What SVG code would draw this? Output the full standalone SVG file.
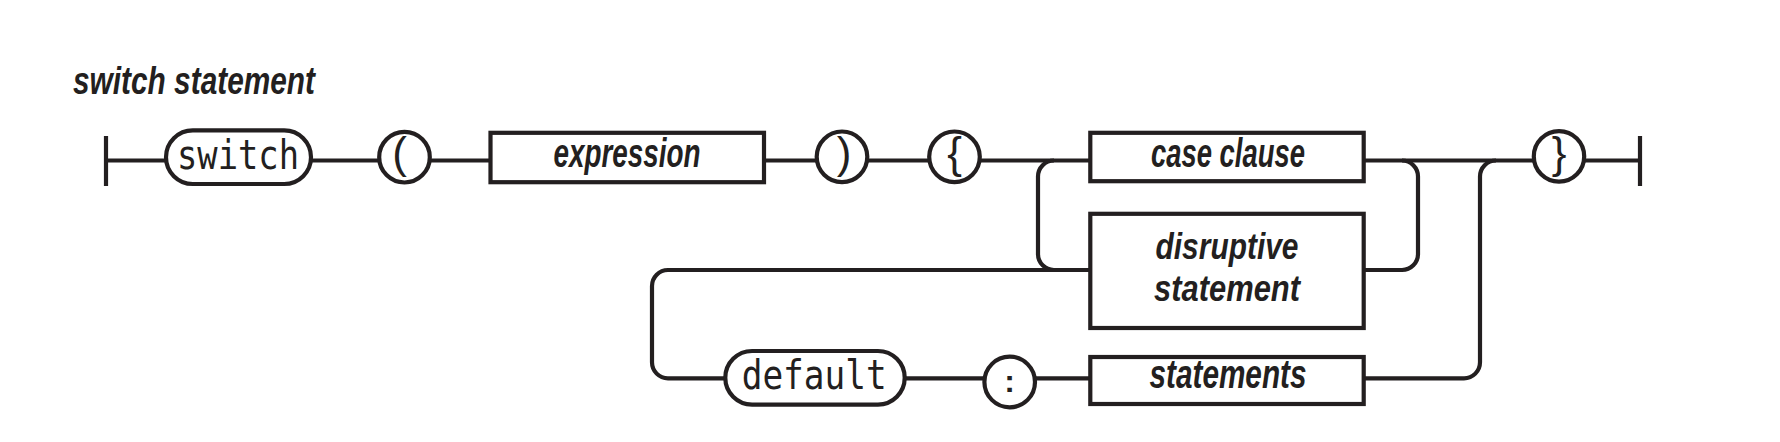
<svg xmlns="http://www.w3.org/2000/svg" width="1780" height="442" viewBox="0 0 1780 442">
<style>
  .ln { fill: none; stroke: #231f20; stroke-width: 4.2; }
  .box { fill: #ffffff; stroke: #231f20; stroke-width: 4.2; }
  .lbl { font-family: "Liberation Sans", Arial, sans-serif; font-weight: bold; font-style: italic; font-size: 41px; fill: #231f20; text-anchor: middle; }
  .lbl2 { font-size: 37px; }
  .mono { font-family: "DejaVu Sans Mono", "Liberation Mono", monospace; font-size: 40px; fill: #231f20; text-anchor: middle; }
  .pun { font-family: "Liberation Sans", Arial, sans-serif; font-size: 44px; fill: #231f20; text-anchor: middle; }
  .title { font-family: "Liberation Sans", Arial, sans-serif; font-weight: bold; font-style: italic; font-size: 39px; fill: #231f20; }
</style>
<rect x="0" y="0" width="1780" height="442" fill="#ffffff"/>
<text class="title" x="73" y="94" textLength="242" lengthAdjust="spacingAndGlyphs">switch statement</text>

<g id="connectors">
  <path class="ln" d="M106,160.5 H166"/>
  <path class="ln" d="M311,160.5 H380"/>
  <path class="ln" d="M429,160.5 H490.5"/>
  <path class="ln" d="M764,160.5 H817"/>
  <path class="ln" d="M867,160.5 H929"/>
  <path class="ln" d="M980,160.5 H1090.3"/>
  <path class="ln" d="M1363.7,160.5 H1534"/>
  <path class="ln" d="M1584,160.5 H1640"/>
  <path class="ln" d="M1054,160.5 A16,16 0 0 0 1038,176.5 V254 A16,16 0 0 0 1054,270"/>
  <path class="ln" d="M1090.3,270 H668 A16,16 0 0 0 652,286 V362.3 A16,16 0 0 0 668,378.3 H725.3"/>
  <path class="ln" d="M1363.7,270 H1402 A16,16 0 0 0 1418,254 V176.5 A16,16 0 0 0 1402,160.5"/>
  <path class="ln" d="M1363.7,378.3 H1464 A16,16 0 0 0 1480,362.3 V176.5 A16,16 0 0 1 1496,160.5"/>
  <path class="ln" d="M904.7,378.3 H985"/>
  <path class="ln" d="M1035,378.3 H1090.3"/>
</g>

<g id="start">
  <line class="ln" x1="106" y1="136" x2="106" y2="186"/>
</g>
<g id="switch">
  <rect class="box" x="166" y="130.4" width="145" height="53.6" rx="26.8"/>
  <text class="mono" x="238" y="169" textLength="122" lengthAdjust="spacingAndGlyphs">switch</text>
</g>
<g id="lparen">
  <circle class="box" cx="404.5" cy="157.2" r="25.3"/>
  <text class="pun" x="399.5" y="168">(</text>
</g>
<g id="expression">
  <rect class="box" x="490.5" y="132.8" width="273.5" height="49.4"/>
  <text class="lbl" x="627" y="167.3" textLength="147" lengthAdjust="spacingAndGlyphs">expression</text>
</g>
<g id="rparen">
  <circle class="box" cx="842" cy="156.8" r="25.3"/>
  <text class="pun" x="844" y="168">)</text>
</g>
<g id="lbrace">
  <circle class="box" cx="954.5" cy="156.8" r="25.3"/>
  <text class="pun" x="954.5" y="168">{</text>
</g>
<g id="case-clause">
  <rect class="box" x="1090.3" y="132.8" width="273.4" height="48.4"/>
  <text class="lbl" x="1228" y="166.7" textLength="154" lengthAdjust="spacingAndGlyphs">case clause</text>
</g>
<g id="disruptive-statement">
  <rect class="box" x="1090.3" y="213.8" width="273.4" height="114.2"/>
  <text class="lbl lbl2" x="1227" y="259" textLength="143" lengthAdjust="spacingAndGlyphs">disruptive</text>
  <text class="lbl lbl2" x="1227" y="301" textLength="146" lengthAdjust="spacingAndGlyphs">statement</text>
</g>
<g id="rbrace">
  <circle class="box" cx="1559" cy="156.4" r="25.2"/>
  <text class="pun" x="1559" y="168">}</text>
</g>
<g id="end">
  <line class="ln" x1="1640" y1="136" x2="1640" y2="186"/>
</g>
<g id="default">
  <rect class="box" x="725.3" y="351" width="179.4" height="53.6" rx="26.8"/>
  <text class="mono" x="814.2" y="389.3" textLength="145" lengthAdjust="spacingAndGlyphs">default</text>
</g>
<g id="colon">
  <circle class="box" cx="1009.7" cy="382" r="25.3"/>
  <text class="pun" x="1009.7" y="392" style="font-weight:bold;font-size:32px">:</text>
</g>
<g id="statements">
  <rect class="box" x="1090.3" y="357" width="273.4" height="47"/>
  <text class="lbl" x="1228" y="388.3" textLength="157" lengthAdjust="spacingAndGlyphs">statements</text>
</g>
</svg>
